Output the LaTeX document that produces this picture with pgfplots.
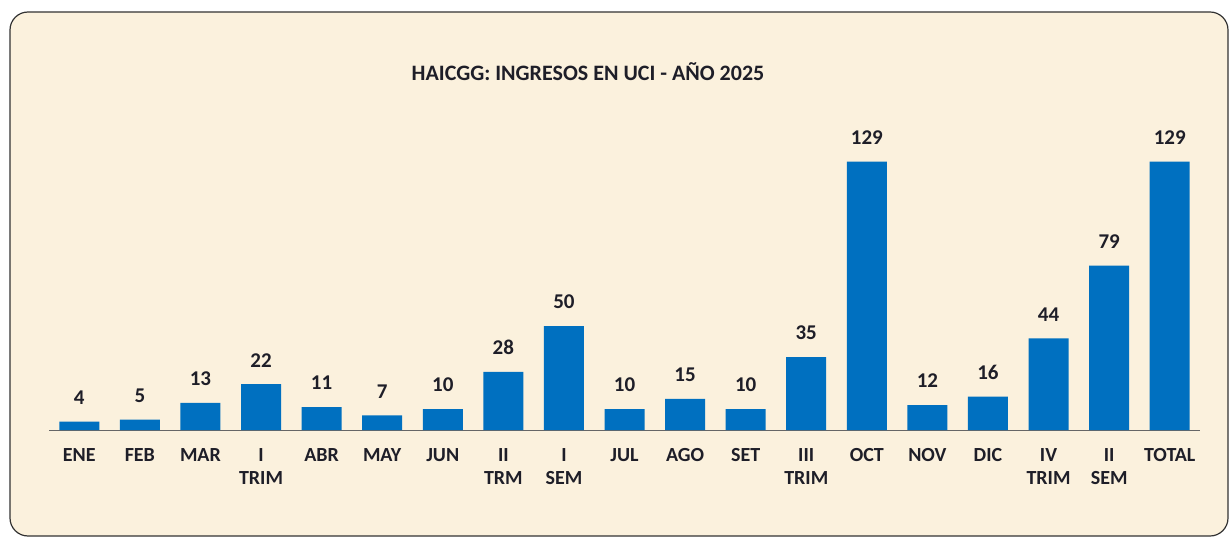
\documentclass[border=0pt]{standalone}
\usepackage{fontspec}
\setmainfont{Carlito}
\usepackage{pgfplots}
\pgfplotsset{compat=1.18}
\definecolor{parch}{RGB}{251,241,221}
\definecolor{barblue}{RGB}{0,112,192}
\definecolor{txt}{RGB}{30,30,40}
\begin{document}
\begin{tikzpicture}[x=1pt,y=1pt]
\path[use as bounding box] (0,0) rectangle (1231,539);
\draw[fill=parch, draw=black!80, line width=1.2pt, rounded corners=18pt] (10,3) rectangle (1228,527);
\node[font=\fontsize{22}{26}\selectfont\bfseries, text=txt] at (588,467) {HAICGG: INGRESOS EN UCI - AÑO 2025};
\begin{axis}[
  at={(49pt,109pt)}, anchor=south west,
  scale only axis, width=1151pt, height=312pt,
  xmin=-0.5, xmax=18.5, ymin=0, ymax=150,
  axis x line=bottom, hide y axis,
  axis line style={-, draw=gray!80!black, line width=0.8pt},
  major tick length=0pt,
  xtick={0,...,18},
  xticklabels={ENE,FEB,MAR,I\\TRIM,ABR,MAY,JUN,II\\TRM,I\\SEM,JUL,AGO,SET,III\\TRIM,OCT,NOV,DIC,IV\\TRIM,II\\SEM,TOTAL},
  xticklabel style={align=center, font=\fontsize{20}{23}\selectfont\bfseries, text=txt, yshift=-15pt},
  /pgf/number format/assume math mode=true,
  ybar, bar width=40pt,
  nodes near coords,
  nodes near coords style={font=\fontsize{21}{24}\selectfont\bfseries, text=txt, anchor=south, inner sep=0pt, yshift=17pt},
  clip=false,
]
\addplot[fill=barblue, draw=none] coordinates {
(0,4) (1,5) (2,13) (3,22) (4,11) (5,7) (6,10) (7,28) (8,50) (9,10)
(10,15) (11,10) (12,35) (13,129) (14,12) (15,16) (16,44) (17,79) (18,129)};
\end{axis}
\end{tikzpicture}
\end{document}
